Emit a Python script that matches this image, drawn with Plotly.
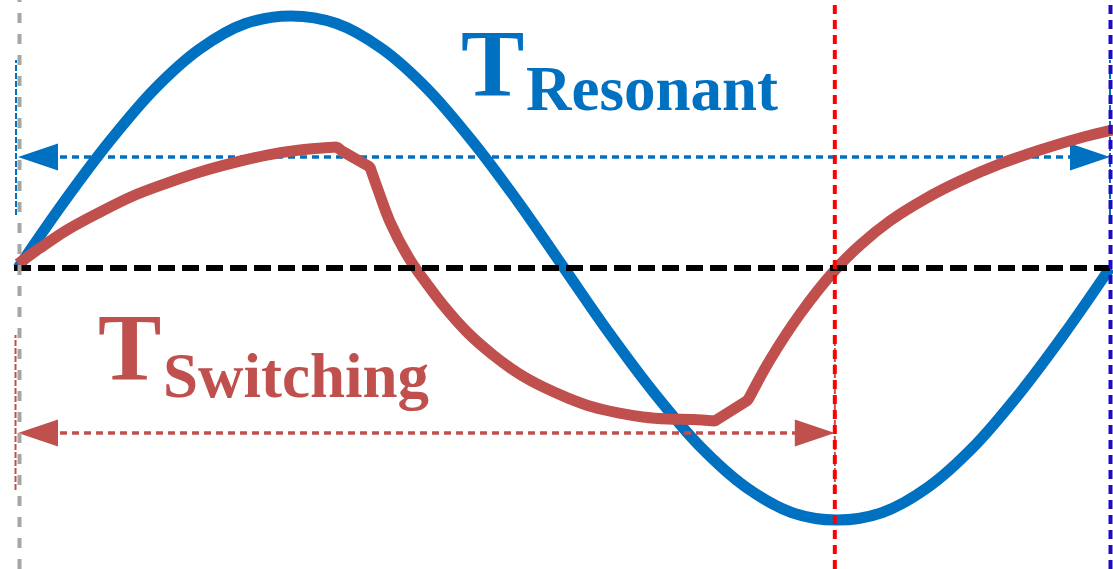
import plotly.graph_objects as go

# ---------------- data (time normalised to one resonant period, amplitude normalised) ----------------
time_resonant = [k / 24 for k in range(25)]
resonant_wave = [0.0, 0.26, 0.50, 0.71, 0.87, 0.97, 1.00, 0.97, 0.87, 0.71, 0.50, 0.26,
                 0.0, -0.26, -0.50, -0.71, -0.87, -0.97, -1.00, -0.97, -0.87, -0.71, -0.50, -0.26, 0.0]

time_switching = [0.0, 0.0201, 0.0449, 0.0751, 0.1053, 0.1364, 0.1667, 0.1969, 0.2280, 0.2582,
                  0.2921, 0.2967, 0.3223, 0.3297, 0.3407, 0.3590, 0.3745, 0.3892, 0.4121, 0.4350,
                  0.4579, 0.4808, 0.5037, 0.5266, 0.5495, 0.5723, 0.5952, 0.6181, 0.6383,
                  0.6685, 0.6886, 0.7161, 0.7482, 0.7711, 0.7985, 0.8306, 0.8626, 0.8993,
                  0.9359, 0.9725, 1.0027]
switching_wave = [0.016, 0.079, 0.151, 0.222, 0.286, 0.337, 0.381, 0.417, 0.448, 0.468,
                  0.480, 0.464, 0.401, 0.310, 0.183, 0.032, -0.063, -0.147, -0.258, -0.345,
                  -0.417, -0.472, -0.516, -0.552, -0.575, -0.591, -0.599, -0.601, -0.607,
                  -0.524, -0.365, -0.183, -0.008, 0.091, 0.187, 0.274, 0.345, 0.413,
                  0.468, 0.516, 0.548]
# indices where the switching waveform has corners
switching_corners = [10, 12, 28, 29]

t_start = 0.0
t_switching_end = 0.748
t_resonant_end = 1.0
resonant_arrow_level = 0.44
switching_arrow_level = -0.655
resonant_bracket = [0.21, 0.825]
switching_bracket = [-0.881, -0.266]

label_T = "T"
label_resonant = "Resonant"
label_switching = "Switching"

# ---------------- styling ----------------
W, H = 1113, 569
X_RANGE = [-18 / 1092, 1095 / 1092]
Y_RANGE = [(268 - 569) / 252, 268 / 252]
BLUE = "#0070c0"
RED = "#c0504d"
px_x = (X_RANGE[1] - X_RANGE[0]) / W
px_y = (Y_RANGE[1] - Y_RANGE[0]) / H

fig = go.Figure()


def add_line(xs, ys, color, width, dash="solid", shape="linear", smoothing=1.0):
    fig.add_trace(go.Scatter(x=xs, y=ys, mode="lines", hoverinfo="skip",
                             line=dict(color=color, width=width, dash=dash, shape=shape,
                                       smoothing=smoothing)))


def add_head(x_tip, y, direction, color, length=40, half=13.5):
    xb = x_tip - direction * length * px_x
    fig.add_trace(go.Scatter(x=[x_tip, xb, xb, x_tip], y=[y, y + half * px_y, y - half * px_y, y],
                             mode="lines", fill="toself", fillcolor=color,
                             line=dict(width=0, color=color), hoverinfo="skip"))


# bracket ticks
add_line([t_start - 2 * px_x] * 2, resonant_bracket, BLUE, 2, "6px,2px")
add_line([t_resonant_end] * 2, resonant_bracket, BLUE, 2, "6px,2px")
add_line([t_start - 2.5 * px_x] * 2, switching_bracket, RED, 2, "6px,2px")
add_line([t_switching_end] * 2, switching_bracket, RED, 2, "6px,2px")

# resonant period arrow
add_line([t_start + 30 * px_x, t_resonant_end - 30 * px_x], [resonant_arrow_level] * 2, BLUE, 3.5, "7px,5px")
add_head(t_start, resonant_arrow_level, -1, BLUE)
add_head(t_resonant_end, resonant_arrow_level, 1, BLUE)

# waveforms
add_line(time_resonant, resonant_wave, BLUE, 11, shape="spline")
bounds = [0] + switching_corners + [len(time_switching) - 1]
for a, b in zip(bounds[:-1], bounds[1:]):
    seg_shape = "spline" if b - a > 2 else "linear"
    add_line(time_switching[a:b + 1], switching_wave[a:b + 1], RED, 11, shape=seg_shape)
    # round the joints
    fig.add_trace(go.Scatter(x=[time_switching[b]], y=[switching_wave[b]], mode="markers",
                             marker=dict(size=10.5, color=RED, line=dict(width=0)), hoverinfo="skip"))

# zero line
add_line([t_start - 4 * px_x, t_resonant_end], [0, 0], "#000000", 6, "17px,7px")

# switching period arrow
add_line([t_start + 30 * px_x, t_switching_end - 30 * px_x], [switching_arrow_level] * 2, RED, 3.5, "7px,5px")
add_head(t_start, switching_arrow_level, -1, RED)
add_head(t_switching_end, switching_arrow_level, 1, RED)

# full-height markers
for xv, col, dash in [(t_start + 1.5 * px_x, "#a6a6a6", "10px,11px"),
                      (t_switching_end, "#ff0000", "9px,6px"),
                      (t_resonant_end + 0.5 * px_x, "#1f0ac8", "9px,6px")]:
    fig.add_shape(type="line", xref="x", yref="paper", x0=xv, x1=xv, y0=0, y1=1,
                  line=dict(color=col, width=4, dash=dash), layer="above")

FONT = "Liberation Serif"


def label(text, x, y, size, color):
    fig.add_annotation(text=f"<b>{text}</b>", xref="paper", yref="paper", x=x, y=y,
                       xanchor="left", yanchor="bottom", showarrow=False,
                       font=dict(family=FONT, size=size, color=color))


label(label_T, 459 / W, 1 - 119.3 / H, 95, BLUE)
label(label_resonant, 524 / W, 1 - 126.2 / H, 63, BLUE)
label(label_T, 96 / W, 1 - 403.3 / H, 95, RED)
label(label_switching, 161 / W, 1 - 413.2 / H, 63, RED)

fig.update_layout(width=W, height=H, margin=dict(l=0, r=0, t=0, b=0),
                  paper_bgcolor="white", plot_bgcolor="white", showlegend=False,
                  xaxis=dict(range=X_RANGE, visible=False, fixedrange=True),
                  yaxis=dict(range=Y_RANGE, visible=False, fixedrange=True))

fig.write_html("out.html", config={"displayModeBar": False},
               post_script="document.body.style.margin='0';")
